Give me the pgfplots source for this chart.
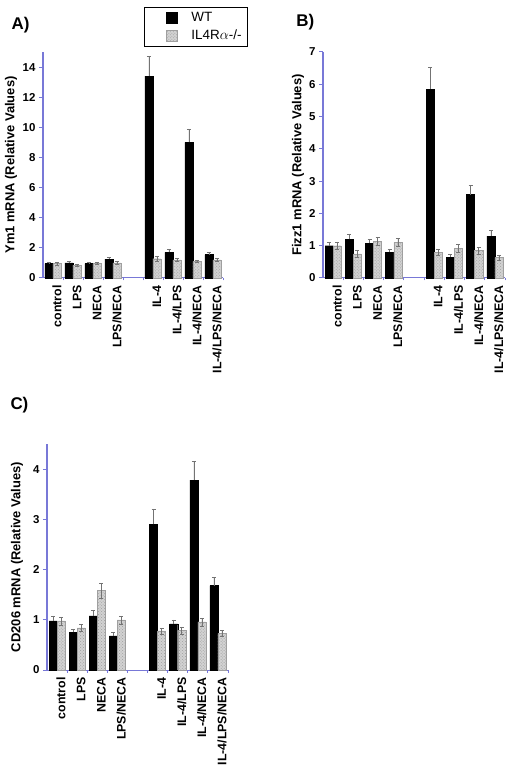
\documentclass[border=0pt]{standalone}
\usepackage{fontspec}
\setmainfont{Liberation Sans}
\usepackage{pgfplots}
\pgfplotsset{compat=1.18}
\usepackage{pgfplotstable}
\usetikzlibrary{patterns}

\definecolor{axblue}{RGB}{120,120,215}
\definecolor{errgray}{RGB}{115,115,115}

\pgfplotstableread{
x wt wte ko koe
0 0.95 0.10 0.95 0.08
1 1.00 0.10 0.85 0.07
2 0.95 0.08 0.95 0.07
3 1.25 0.12 1.00 0.10
5 13.4 1.30 1.28 0.15
6 1.70 0.20 1.20 0.10
7 9.00 0.90 1.10 0.08
8 1.55 0.15 1.20 0.10
}\tabA

\pgfplotstableread{
x wt wte ko koe
0 1.00 0.10 1.00 0.12
1 1.20 0.15 0.75 0.10
2 1.08 0.11 1.13 0.12
3 0.80 0.10 1.10 0.12
5 5.85 0.68 0.80 0.10
6 0.65 0.07 0.92 0.12
7 2.58 0.30 0.85 0.10
8 1.30 0.17 0.63 0.07
}\tabB

\pgfplotstableread{
x wt wte ko koe
0 0.98 0.10 0.98 0.08
1 0.75 0.07 0.84 0.07
2 1.08 0.11 1.58 0.15
3 0.68 0.07 1.00 0.08
5 2.90 0.31 0.78 0.06
6 0.92 0.08 0.79 0.07
7 3.78 0.37 0.96 0.08
8 1.68 0.17 0.73 0.06
}\tabC

\pgfplotsset{
  panel/.style={
    scale only axis, width=180bp, height=226bp,
    xmin=-0.5, xmax=8.5, ymin=0,
    axis x line*=bottom, axis y line*=left,
    x axis line style={draw=axblue, line width=1pt, -},
    y axis line style={draw=axblue, line width=1.4pt, -},
    xtick={0,1,2,3,5,6,7,8},
    xticklabels={control,LPS,NECA,LPS/NECA,IL-4,IL-4/LPS,IL-4/NECA,IL-4/LPS/NECA},
    xtick style={draw=none},
    minor xtick={0.5,1.5,2.5,3.5,4.5,5.5,6.5,7.5,8.5},
    minor x tick style={draw=axblue, line width=0.8pt},
    minor tick length=2.5bp,
    x tick label style={rotate=90, anchor=east, font=\bfseries\fontsize{12.4}{13}\selectfont, yshift=-4bp},
    y tick label style={font=\bfseries\fontsize{11.5}{12}\selectfont},
    /pgf/number format/assume math mode=true,
    tick align=outside,
    major tick length=4bp,
    ytick style={draw=axblue, line width=1pt},
    ylabel style={font=\bfseries\fontsize{13}{14}\selectfont, anchor=center},
    ybar, bar width=0.4,
    clip=false,
  },
  wtbar/.style={fill=black, draw=black, bar shift=-0.2,
    error bars/.cd, y dir=plus, y explicit,
    error bar style={errgray, line width=0.5pt},
    error mark options={rotate=90, errgray, mark size=2bp, line width=0.5pt}},
  kobar/.style={fill=gray!35, draw=gray!75, bar shift=0.2,
    postaction={pattern=crosshatch dots, pattern color=gray!75},
    error bars/.cd, y dir=both, y explicit,
    error bar style={errgray, line width=0.5pt},
    error mark options={rotate=90, errgray, mark size=2bp, line width=0.5pt}},
}

\begin{document}
\begin{tikzpicture}
\useasboundingbox (0,0) rectangle (512bp,776bp);

% Panel A
\begin{axis}[panel, at={(43bp,498bp)}, anchor=south west,
  ymax=15, ytick={0,2,...,14},
  ylabel={Ym1 mRNA (Relative Values)},
  ylabel style={at={(axis description cs:-0.178,0.5)}},
  legend style={at={(axis description cs:0.561,1.199)}, anchor=north west,
    draw=black, line width=0.8pt, font=\fontsize{13.5}{14}\selectfont,
    inner xsep=4bp, inner ysep=3bp, row sep=3bp},
  legend image code/.code={%
    \pgfpathrectangle{\pgfpoint{0bp}{-5.5bp}}{\pgfpoint{41bp}{11bp}}\pgfusepath{use as bounding box}%
    \draw[#1, line width=0.4pt] (18bp,-5.5bp) rectangle (29bp,5.5bp);},
  legend cell align=left]
\addplot[wtbar] table[x=x, y=wt, y error=wte] {\tabA};
\addlegendentry{WT}
\addplot[kobar] table[x=x, y=ko, y error=koe] {\tabA};
\addlegendentry{IL4R$\alpha$-/-}
\node[font=\bfseries\fontsize{17}{17}\selectfont, anchor=west] at (axis description cs:-0.194,1.119) {A)};
\end{axis}

% Panel B
\begin{axis}[panel, at={(323bp,498bp)}, anchor=south west, width=182bp,
  ymax=7, ytick={0,1,...,7},
  ylabel={Fizz1 mRNA (Relative Values)},
  ylabel style={at={(axis description cs:-0.137,0.5)}}]
\addplot[wtbar] table[x=x, y=wt, y error=wte] {\tabB};
\addplot[kobar] table[x=x, y=ko, y error=koe] {\tabB};
\node[font=\bfseries\fontsize{17}{17}\selectfont, anchor=west] at (axis description cs:-0.165,1.133) {B)};
\end{axis}

% Panel C
\begin{axis}[panel, at={(47bp,106bp)}, anchor=south west, width=181bp,
  ymax=4.5, ytick={0,1,...,4},
  ylabel={CD206 mRNA (Relative Values)},
  ylabel style={at={(axis description cs:-0.166,0.5)}}]
\addplot[wtbar] table[x=x, y=wt, y error=wte] {\tabC};
\addplot[kobar] table[x=x, y=ko, y error=koe] {\tabC};
\node[font=\bfseries\fontsize{17}{17}\selectfont, anchor=west] at (axis description cs:-0.221,1.173) {C)};
\end{axis}
\end{tikzpicture}
\end{document}
